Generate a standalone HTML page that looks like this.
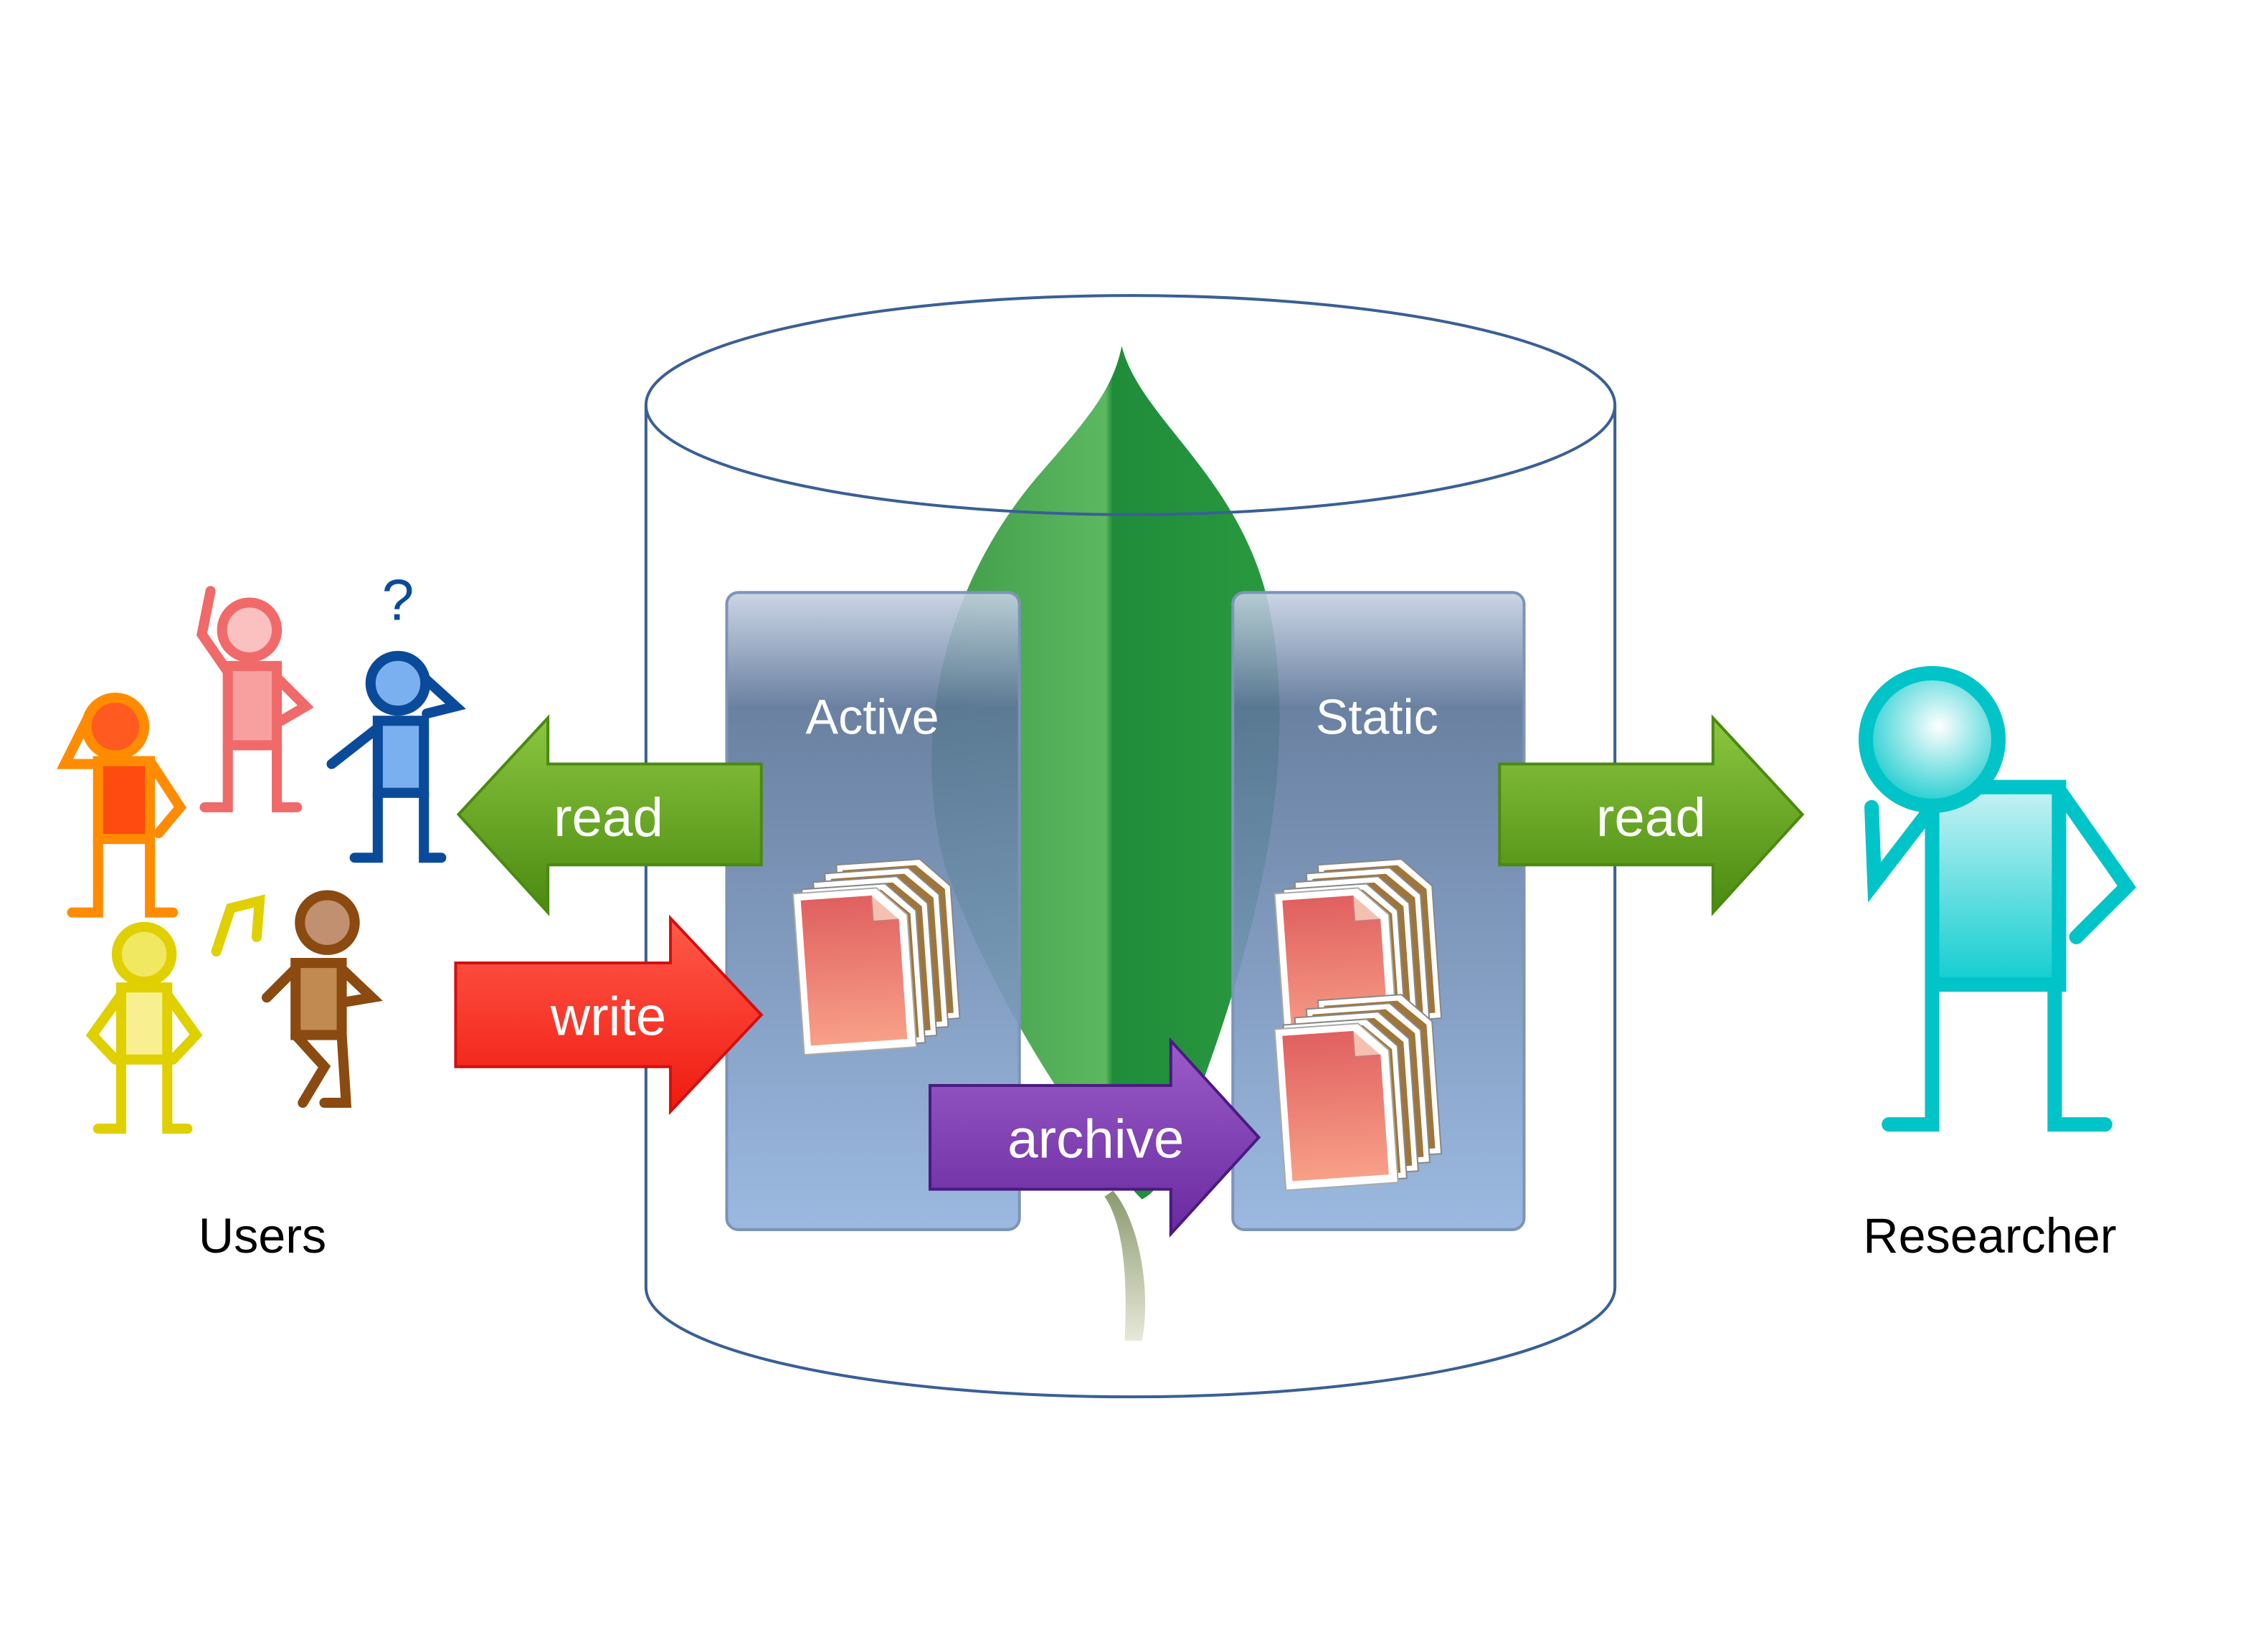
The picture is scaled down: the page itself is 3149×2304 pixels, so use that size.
<!DOCTYPE html>
<html><head><meta charset="utf-8"><style>
html,body{margin:0;padding:0;background:#fff;}
svg{display:block;}
text{font-family:"Liberation Sans",sans-serif;}
</style></head><body>
<svg width="3149" height="2304" viewBox="0 0 1566 1146" preserveAspectRatio="none" xmlns="http://www.w3.org/2000/svg">
<defs>
<linearGradient id="leaf" x1="0" x2="1" y1="0" y2="0">
<stop offset="0" stop-color="#3f9a48"/><stop offset="0.5" stop-color="#5cb860"/><stop offset="0.52" stop-color="#1f8c3a"/><stop offset="1" stop-color="#2a9a3f"/></linearGradient>
<linearGradient id="stem" x1="0" x2="0" y1="0" y2="1"><stop offset="0" stop-color="#8a9a70"/><stop offset="1" stop-color="#e8e8d8"/></linearGradient>
<linearGradient id="panel" x1="0" x2="0" y1="0" y2="1">
<stop offset="0" stop-color="#c5d1e2" stop-opacity="0.9"/><stop offset="0.18" stop-color="#5d7699" stop-opacity="0.92"/><stop offset="1" stop-color="#93b3de" stop-opacity="0.92"/></linearGradient>
<linearGradient id="green" x1="0" x2="0" y1="0" y2="1"><stop offset="0" stop-color="#8cc640"/><stop offset="1" stop-color="#4a8a10"/></linearGradient>
<linearGradient id="red" x1="0" x2="0" y1="0" y2="1"><stop offset="0" stop-color="#ff5a4a"/><stop offset="1" stop-color="#f01a10"/></linearGradient>
<linearGradient id="purple" x1="0" x2="0" y1="0" y2="1"><stop offset="0" stop-color="#9a5cc8"/><stop offset="1" stop-color="#6a2aa0"/></linearGradient>
<linearGradient id="cyan" x1="0" x2="0" y1="0" y2="1"><stop offset="0" stop-color="#c8f2f4"/><stop offset="1" stop-color="#10cdd0"/></linearGradient>
<radialGradient id="cyanhead" cx="0.55" cy="0.4" r="0.6"><stop offset="0" stop-color="#ffffff"/><stop offset="1" stop-color="#20cdd0"/></radialGradient>
<linearGradient id="doc" x1="0" x2="0" y1="0" y2="1"><stop offset="0" stop-color="#e06060"/><stop offset="1" stop-color="#f8a088"/></linearGradient>
<g id="pg2" transform="rotate(-4)"><path d="M0,0 L58,0 L78,20 L78,112 L0,112 Z" fill="#fff" stroke="#888"/><path d="M4,4 L55,4 L74,22 L74,108 L4,108 Z" fill="#a0753a"/></g>
<g id="stack">
<use href="#pg2" transform="translate(30,-20)"/>
<use href="#pg2" transform="translate(22,-14)"/>
<use href="#pg2" transform="translate(14,-8)"/>
<use href="#pg2" transform="translate(6,-3)"/>
<g transform="rotate(-4)"><path d="M0,0 L58,0 L78,20 L78,112 L0,112 Z" fill="#fff" stroke="#aaa"/><path d="M5,5 L54,5 L72,23 L72,106 L5,106 Z" fill="url(#doc)"/><path d="M54,5 L54,23 L72,23" fill="#f4c0b0" stroke="#c77"/></g>
</g>
</defs>

<path d="M448,281 L448,893 A336,76 0 0 0 1120,893 L1120,281" fill="none" stroke="#3a5f95" stroke-width="2"/>

<path d="M778,240 C790,290 860,330 880,420 C900,520 880,640 815,800 C808,818 800,828 792,832 C760,800 690,700 655,600 C630,500 660,400 720,330 C755,290 772,270 778,240 Z" fill="url(#leaf)"/>
<path d="M772,826 C792,850 798,900 792,930 L780,930 C782,890 780,850 766,830 Z" fill="url(#stem)"/>

<ellipse cx="784" cy="281" rx="336" ry="76" fill="none" stroke="#3a5f95" stroke-width="2"/>

<rect x="504" y="411" width="203" height="442" rx="8" fill="url(#panel)" stroke="#7c94b8" stroke-width="2"/>
<rect x="855" y="411" width="202" height="442" rx="8" fill="url(#panel)" stroke="#7c94b8" stroke-width="2"/>
<text x="605" y="509" font-size="34" fill="#fff" text-anchor="middle">Active</text>
<text x="955" y="509" font-size="34" fill="#fff" text-anchor="middle">Static</text>

<use href="#stack" transform="translate(550,620)"/>
<use href="#stack" transform="translate(884,620)"/>
<use href="#stack" transform="translate(884,714)"/>

<path d="M318,565 L380,498 L380,530 L528,530 L528,600 L380,600 L380,633 Z" fill="url(#green)" stroke="#4a8a10" stroke-width="2"/>
<text x="422" y="580" font-size="38" fill="#fff" text-anchor="middle">read</text>
<path d="M1040,530 L1188,530 L1188,498 L1250,565 L1188,633 L1188,600 L1040,600 Z" fill="url(#green)" stroke="#4a8a10" stroke-width="2"/>
<text x="1145" y="580" font-size="38" fill="#fff" text-anchor="middle">read</text>
<path d="M316,668 L465,668 L465,637 L528,704 L465,771 L465,740 L316,740 Z" fill="url(#red)" stroke="#d01010" stroke-width="2"/>
<text x="422" y="718" font-size="38" fill="#fff" text-anchor="middle">write</text>
<path d="M645,753 L812,753 L812,722 L873,789 L812,856 L812,825 L645,825 Z" fill="url(#purple)" stroke="#4a1a80" stroke-width="2"/>
<text x="760" y="803" font-size="38" fill="#fff" text-anchor="middle">archive</text>

<g stroke="#00c4c8" stroke-width="10" fill="none" stroke-linecap="round">
<rect x="1340" y="546" width="88" height="137" fill="url(#cyan)"/>
<path d="M1340,683 L1340,780 L1310,780 M1425,683 L1425,780 L1460,780"/>
<path d="M1428,548 L1475,615 L1440,650"/>
<path d="M1340,560 L1300,612 L1298,560"/>
<circle cx="1340" cy="513" r="46" fill="url(#cyanhead)"/>
</g>

<g stroke-width="7" fill="none" stroke-linecap="round">
<g stroke="#ff8c00"><rect x="68" y="528" width="36" height="54" fill="#ff4a10"/><path d="M68,582 L68,633 L50,633 M104,582 L104,633 L120,633 M104,528 L125,560 L110,578 M68,530 L45,530 L60,500"/><circle cx="80" cy="504" r="20" fill="#ff5a20"/></g>
<g stroke="#f06a6a"><rect x="158" y="462" width="34" height="55" fill="#f8a0a0"/><path d="M158,517 L158,560 L142,560 M192,517 L192,560 L206,560 M192,470 L212,490 L195,500 M158,466 L140,440 L146,410"/><circle cx="173" cy="437" r="19" fill="#fbc0c0"/></g>
<g stroke="#0a4a9a"><rect x="262" y="500" width="32" height="50" fill="#7ab0f0"/><path d="M262,550 L262,595 L246,595 M294,550 L294,595 L306,595 M262,505 L230,530 M294,470 L316,490 L296,495"/><circle cx="276" cy="474" r="19" fill="#7ab0f0"/></g>
<text x="276" y="430" font-size="40" fill="#0a4a9a" stroke="none" text-anchor="middle">?</text>
<g stroke="#e0d000"><rect x="84" y="685" width="32" height="50" fill="#f8f090"/><path d="M84,735 L84,783 L68,783 M116,735 L116,783 L130,783 M84,690 L64,718 L80,735 M116,690 L136,718 L120,735"/><circle cx="100" cy="662" r="19" fill="#f0e860"/></g>
<path d="M150,660 L160,630 L180,625 L178,650" stroke="#e0d000"/>
<g stroke="#8a4a10"><rect x="205" y="668" width="32" height="50" fill="#c08a50"/><path d="M205,718 L225,740 L210,765 M237,718 L240,765 L225,765 M205,672 L185,692 M237,672 L258,692 L240,695"/><circle cx="227" cy="640" r="19" fill="#c09070"/></g>
</g>

<text x="182" y="869" font-size="34" fill="#000" text-anchor="middle">Users</text>
<text x="1380" y="869" font-size="34" fill="#000" text-anchor="middle">Researcher</text>
</svg>
</body></html>
